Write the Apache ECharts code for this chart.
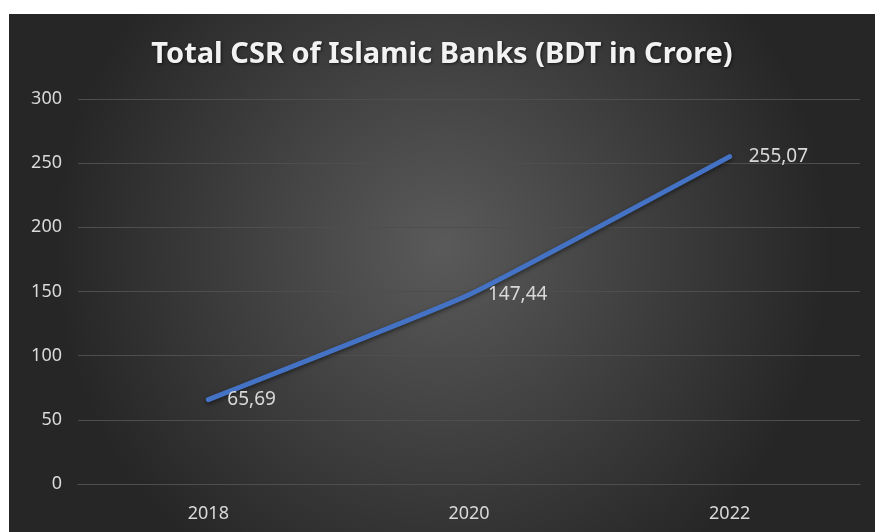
<!DOCTYPE html>
<html>
<head>
<meta charset="utf-8">
<script src="https://cdn.jsdelivr.net/npm/echarts@6/dist/echarts.min.js"></script>
<style>
  html, body { margin: 0; padding: 0; background: #fff; }
  #chart { position: absolute; left: 9px; top: 14px; width: 866px; height: 518px; }
</style>
</head>
<body>
<div id="chart"></div>
<script>
// values
const years = ['2018', '2020', '2022']
const totalCsr = [65.69, 147.44, 255.07]
const yTicks = [0, 50, 100, 150, 200, 250, 300]

const chart = echarts.init(document.getElementById('chart'))
const fmt = v => v.toFixed(2).replace('.', ',')

chart.setOption({
  animation: false,
  backgroundColor: {
    type: 'radial', x: 0.5, y: 0.45, r: 0.75,
    colorStops: [
      { offset: 0, color: '#5a5a5a' },
      { offset: 1, color: '#262626' }
    ]
  },
  title: {
    text: 'Total CSR of Islamic Banks (BDT in Crore)',
    left: 'center',
    top: 21,
    textStyle: {
      color: '#f2f2f2',
      fontFamily: 'Noto Sans',
      fontWeight: 'bold',
      fontSize: 29,
      textShadowColor: 'rgba(0,0,0,0.6)',
      textShadowBlur: 3,
      textShadowOffsetX: 1,
      textShadowOffsetY: 1
    }
  },
  grid: { left: 69, right: 15, top: 85, bottom: 48 },
  xAxis: {
    type: 'category',
    data: years,
    boundaryGap: true,
    axisLine: { show: true, lineStyle: { color: '#4e4e4e', width: 1 } },
    axisTick: { show: false },
    axisLabel: { color: '#d9d9d9', fontSize: 18, fontFamily: 'Noto Sans', margin: 21 }
  },
  yAxis: {
    type: 'value',
    min: yTicks[0],
    max: yTicks[yTicks.length - 1],
    interval: 50,
    axisLine: { show: false },
    axisTick: { show: false },
    splitLine: { lineStyle: { color: '#4e4e4e', width: 1 } },
    axisLabel: { color: '#d9d9d9', fontSize: 18, fontFamily: 'Noto Sans', margin: 16 }
  },
  series: [{
    type: 'line',
    data: totalCsr,
    smooth: 0.12,
    showSymbol: true,
    symbol: 'circle',
    symbolSize: 0,
    itemStyle: { color: '#4472c4' },
    lineStyle: {
      color: '#4472c4',
      width: 5,
      cap: 'round',
      join: 'round',
      shadowColor: 'rgba(0,0,0,0.5)',
      shadowBlur: 4,
      shadowOffsetY: 2
    },
    label: {
      show: true,
      position: 'right',
      distance: 19,
      color: '#d9d9d9',
      fontSize: 19,
      fontFamily: 'Noto Sans',
      formatter: p => fmt(p.value)
    }
  }]
})
</script>
</body>
</html>
